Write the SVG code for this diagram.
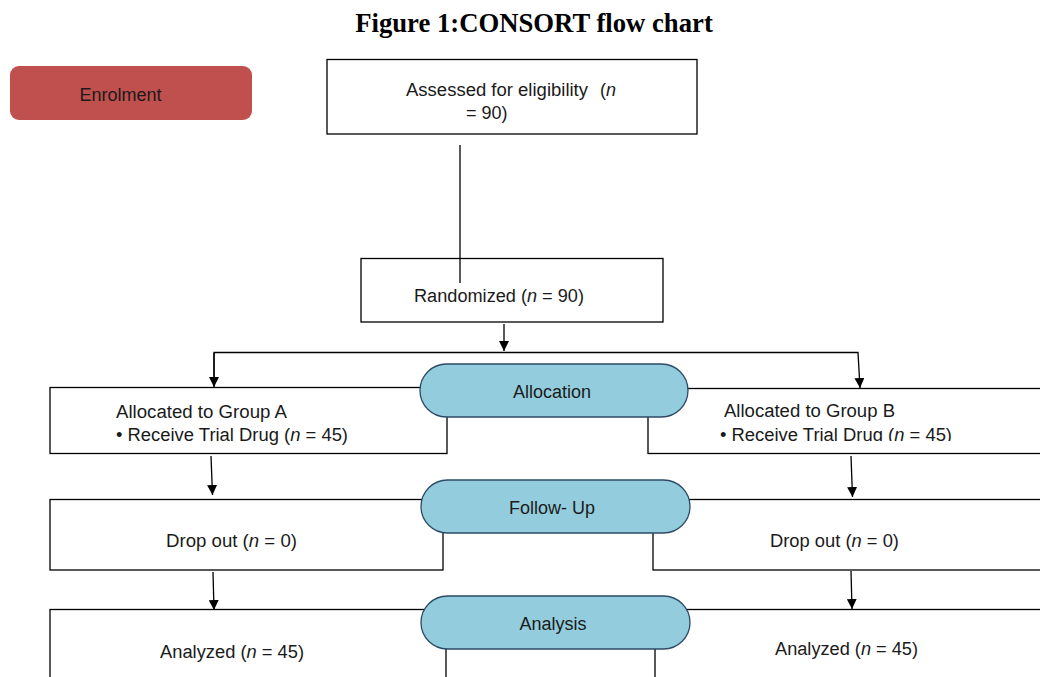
<svg xmlns="http://www.w3.org/2000/svg" width="1040" height="677" viewBox="0 0 1040 677">
<style>
.box{fill:#fff;stroke:#000;stroke-width:1.3}
.pill{fill:#93cddd;stroke:#2c4a66;stroke-width:1.3}
.t{font-family:"Liberation Sans",Arial,sans-serif;font-size:18px;fill:#1a1a1a}
.c{text-anchor:middle}
.ln{fill:none;stroke:#000;stroke-width:1.3}
</style>
<defs>
<marker id="ah" viewBox="0 0 10 10" refX="10" refY="5" markerWidth="10" markerHeight="10" markerUnits="userSpaceOnUse" orient="auto">
<path d="M0,0 L10,5 L0,10 z" fill="#000"/>
</marker>
<clipPath id="clipB"><rect x="640" y="380" width="400" height="61"/></clipPath>
</defs>
<rect width="1040" height="677" fill="#fff"/>
<text x="534" y="32" text-anchor="middle" font-family="'Liberation Serif','Times New Roman',serif" font-weight="bold" font-size="26.7" fill="#000">Figure 1:CONSORT flow chart</text>

<g id="enrolment">
<rect x="10" y="66" width="242" height="54" rx="9" fill="#c0504d"/>
<text class="t c" x="120.5" y="101" fill="#2e2e2e">Enrolment</text>
</g>

<g id="assessed">
<rect class="box" x="327" y="59.5" width="370" height="74.5"/>
<text class="t" x="406" y="96" textLength="182" lengthAdjust="spacingAndGlyphs">Assessed for eligibility</text>
<text class="t" x="600" y="96">(<tspan font-style="italic">n</tspan></text>
<text class="t" x="466" y="119">= 90)</text>
</g>

<g id="randomized">
<rect class="box" x="361" y="258.5" width="302" height="63.5"/>
<text class="t" x="414" y="302" textLength="170" lengthAdjust="spacingAndGlyphs">Randomized (<tspan font-style="italic">n</tspan> = 90)</text>
</g>

<g id="groupA">
<rect class="box" x="50" y="387.5" width="397" height="66"/>
<text class="t" x="116" y="418" textLength="171" lengthAdjust="spacingAndGlyphs">Allocated to Group A</text>
<text class="t" x="116" y="441" textLength="232" lengthAdjust="spacingAndGlyphs">• Receive Trial Drug (<tspan font-style="italic">n</tspan> = 45)</text>
</g>

<g id="groupB">
<rect class="box" x="648" y="388.5" width="400" height="65"/>
<text class="t" x="724" y="417" textLength="171" lengthAdjust="spacingAndGlyphs">Allocated to Group B</text>
<text class="t" x="720" y="441" clip-path="url(#clipB)" textLength="232" lengthAdjust="spacingAndGlyphs">• Receive Trial Drug (<tspan font-style="italic">n</tspan> = 45)</text>
</g>

<g id="dropA">
<rect class="box" x="50" y="499.5" width="393" height="70.5"/>
<text class="t" x="166" y="547" textLength="131" lengthAdjust="spacingAndGlyphs">Drop out (<tspan font-style="italic">n</tspan> = 0)</text>
</g>

<g id="dropB">
<rect class="box" x="653" y="499.5" width="395" height="70.5"/>
<text class="t" x="770" y="547" textLength="129" lengthAdjust="spacingAndGlyphs">Drop out (<tspan font-style="italic">n</tspan> = 0)</text>
</g>

<g id="analyzedA">
<rect class="box" x="50" y="609.5" width="396" height="80"/>
<text class="t" x="160" y="658" textLength="144" lengthAdjust="spacingAndGlyphs">Analyzed (<tspan font-style="italic">n</tspan> = 45)</text>
</g>

<g id="analyzedB">
<rect class="box" x="655" y="609.5" width="395" height="80"/>
<text class="t" x="775" y="655" textLength="143" lengthAdjust="spacingAndGlyphs">Analyzed (<tspan font-style="italic">n</tspan> = 45)</text>
</g>

<g id="allocation">
<rect class="pill" x="420" y="364" width="268" height="53" rx="26.5"/>
<text class="t c" x="552" y="398">Allocation</text>
</g>

<g id="followup">
<rect class="pill" x="421" y="480" width="269" height="53" rx="26.5"/>
<text class="t c" x="552" y="514">Follow- Up</text>
</g>

<g id="analysis">
<rect class="pill" x="421" y="596" width="269" height="53" rx="26.5"/>
<text class="t c" x="553" y="630">Analysis</text>
</g>

<g id="connectors">
<line class="ln" x1="460" y1="145" x2="460" y2="283"/>
<line class="ln" x1="504" y1="324" x2="504" y2="351" marker-end="url(#ah)"/>
<polyline class="ln" points="214,386 214,352.5 858,352.5 860,388" marker-end="url(#ah)"/>
<line class="ln" x1="214" y1="353" x2="214" y2="387" marker-end="url(#ah)"/>
<line class="ln" x1="211" y1="456" x2="212.5" y2="495" marker-end="url(#ah)"/>
<line class="ln" x1="851" y1="456" x2="852.5" y2="497" marker-end="url(#ah)"/>
<line class="ln" x1="213" y1="572" x2="214" y2="610" marker-end="url(#ah)"/>
<line class="ln" x1="851" y1="571" x2="852" y2="609" marker-end="url(#ah)"/>
</g>
</svg>
